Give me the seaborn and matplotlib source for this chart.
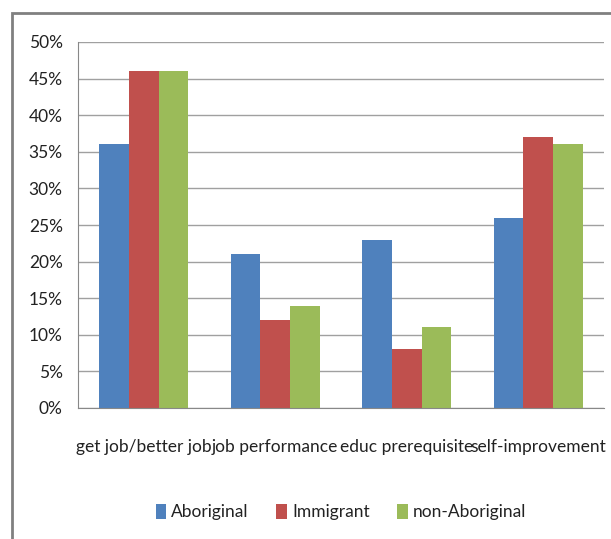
import pandas as pd
import numpy as np
import matplotlib
matplotlib.use('Agg')
import matplotlib.pyplot as plt
import seaborn as sns
from matplotlib.patches import Rectangle
from matplotlib.ticker import FixedLocator

# Chart data
categories = ['get job/better job', 'job performance', 'educ prerequisite', 'self-improvement']
groups = ['Aboriginal', 'Immigrant', 'non-Aboriginal']
aboriginal = [36, 21, 23, 26]
immigrant = [46, 12, 8, 37]
non_aboriginal = [46, 14, 11, 36]
colors = ['#4F81BD', '#C0504D', '#9BBB59']

df = pd.DataFrame({
    'category': categories * 3,
    'group': np.repeat(groups, len(categories)),
    'value': aboriginal + immigrant + non_aboriginal,
})

sns.set_style('white')
plt.rcParams['font.family'] = ['Lato', 'DejaVu Sans']

fig = plt.figure(figsize=(6.11, 5.39), dpi=100)
ax = fig.add_axes([78 / 611, 1 - 408 / 539, 526 / 611, 366 / 539])

sns.barplot(data=df, x='category', y='value', hue='group', palette=colors,
            width=0.68, gap=0, saturation=1, linewidth=0, ax=ax, legend=True)

ax.set_ylim(0, 50)
ax.set_xlim(-0.5, 3.5)
ax.set_yticks(range(0, 51, 5))
ax.set_yticklabels([f'{v}%' for v in range(0, 51, 5)], fontsize=12.5, color='#222222')
ax.set_xticks(range(4))
ax.set_xticklabels(categories, fontsize=12.5, color='#222222')
ax.tick_params(axis='x', length=0, pad=22)
ax.xaxis.set_minor_locator(FixedLocator([-0.5, 0.5, 1.5, 2.5, 3.5]))
ax.tick_params(axis='x', which='minor', length=6, color='#888888', width=1)
ax.tick_params(axis='y', length=5, color='#888888', width=1, pad=6)
ax.set_xlabel('')
ax.set_ylabel('')
ax.grid(axis='y', color='#A0A0A0', linewidth=1)
ax.set_axisbelow(True)
for side in ['top', 'right']:
    ax.spines[side].set_visible(False)
ax.spines['left'].set_color('#888888')
ax.spines['bottom'].set_color('#888888')

leg = ax.legend(loc='center', bbox_to_anchor=(0.5, -(512 - 408) / 366), ncol=3,
                frameon=False, fontsize=12.5, handlelength=0.6, handleheight=1.0,
                handletextpad=0.3, columnspacing=1.6)
for t in leg.get_texts():
    t.set_color('#222222')

# Outer frame like the original screenshot
fig.patches.append(Rectangle((12 / 611, -0.05), 1.2, 1 - 13 / 539 + 0.05,
                             transform=fig.transFigure, fill=False,
                             edgecolor='#808080', linewidth=2))

plt.savefig('out.png', dpi=100)
